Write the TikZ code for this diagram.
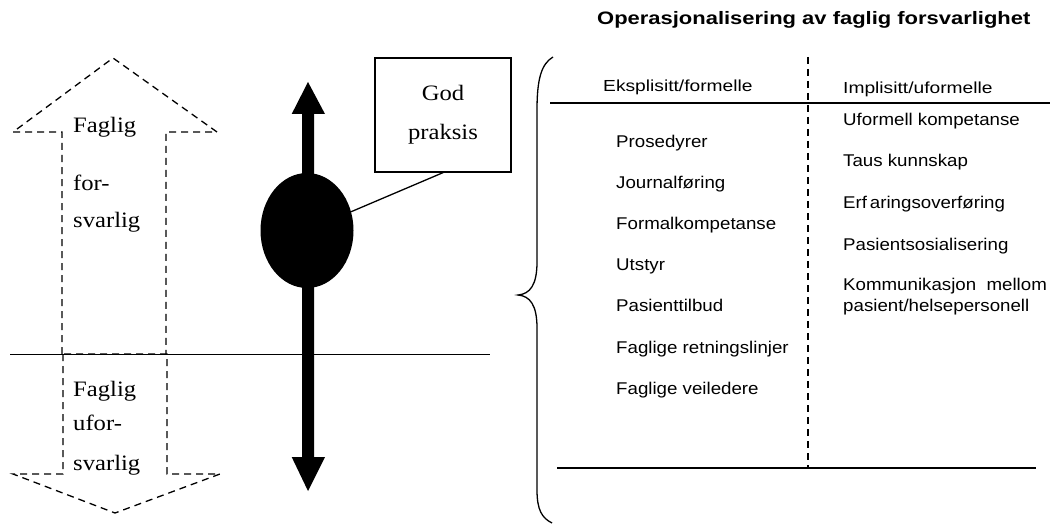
\documentclass[tikz,border=0pt]{standalone}
\usepackage{fontspec}
\usetikzlibrary{shapes.geometric}
\setmainfont{Liberation Serif}
\newfontfamily\serifx[FakeStretch=1.12]{Liberation Serif}
\newfontfamily\sansx[FakeStretch=1.1]{Liberation Sans}
\newfontfamily\headx[FakeStretch=1.2]{Liberation Sans}
\newfontfamily\titlex[FakeStretch=1.22]{Liberation Sans}
\tikzset{
  serif/.style={font=\serifx\fontsize{22}{25}\selectfont, inner sep=0pt, anchor=base west},
  item/.style={font=\sansx\fontsize{17}{20}\selectfont, inner sep=0pt, anchor=base west},
  head/.style={font=\headx\fontsize{16}{18}\selectfont, inner sep=0pt, anchor=base west},
  dasharrow/.style={line width=1.3pt, dash pattern=on 7pt off 5pt},
  rule/.style={line width=1.3pt},
}
\begin{document}
\begin{tikzpicture}[x=1pt,y=-1pt]
\useasboundingbox (0,0) rectangle (1052,532);
% title
\node[font=\titlex\bfseries\fontsize{18}{20}\selectfont, inner sep=0pt, anchor=base west] (title) at (597,25) {Operasjonalisering av faglig forsvarlighet};
% dashed arrows
\draw[dasharrow] (62,354) -- (62,132) -- (13,132) -- (113,58) -- (217,132) -- (166,132) -- (166,354);
\draw[dasharrow] (63,354) -- (63,474) -- (13,474) -- (115,513) -- (220,474) -- (167,474) -- (167,354) -- cycle;
% horizontal line
\coordinate (hl) at (10,354.5);
\coordinate (hr) at (490,354.5);
\draw[rule] (hl) -- (hr);
% texts left
\node[serif] (f1) at (73,133) {Faglig};
\node[serif] (f2) at (73,190) {for-};
\node[serif] (f3) at (73,227) {svarlig};
\node[serif] (u1) at (73,396) {Faglig};
\node[serif] (u2) at (73,430) {ufor-};
\node[serif] (u3) at (73,470) {svarlig};
% thick double arrow
\fill (302,114) -- (291.7,114) -- (308,82) -- (325,114) -- (314,114) -- (314,457) -- (325,457) -- (308,491) -- (291.7,457) -- (302,457) -- cycle;
\node[ellipse, fill=black, minimum width=93pt, minimum height=115pt, inner sep=0pt] (ell) at (307,230.5) {};
% box
\node[draw, line width=1.3pt, minimum width=136pt, minimum height=114pt, align=center, inner sep=0pt,
  font=\serifx\fontsize{22}{39}\selectfont] (god) at (443,115) {God\\praksis};
\draw[line width=1.3pt] (god.south) -- (ell);
% brace
\draw[line width=1.3pt] (553,57) .. controls (541,64) and (537,80) .. (537,110) -- (537,262)
  .. controls (537,285) and (530,294) .. (518,295)
  .. controls (530,296) and (537,305) .. (537,328) -- (537,490)
  .. controls (537,510) and (542,518) .. (552,523);
% table lines
\coordinate (tl) at (550,103);
\coordinate (tr) at (1050,103);
\draw[rule] (tl) -- (tr);
\coordinate (vt) at (808,57);
\coordinate (vb) at (808,468);
\draw[line width=1.3pt, dash pattern=on 7pt off 5pt] (vt) -- (vb);
\coordinate (bl) at (557,468);
\coordinate (br) at (1036,468);
\draw[rule] (bl) -- (br);
% headers
\node[head] (h1) at (603,92) {Eksplisitt/formelle};
\node[head] (h2) at (843,94) {Implisitt/uformelle};
% left items
\node[item] (a1) at (616,147) {Prosedyrer};
\node[item] (a2) at (616,188.2) {Journalføring};
\node[item] (a3) at (616,229.4) {Formalkompetanse};
\node[item] (a4) at (616,270.6) {Utstyr};
\node[item] (a5) at (616,311.8) {Pasienttilbud};
\node[item] (a6) at (616,353) {Faglige retningslinjer};
\node[item] (a7) at (616,394.2) {Faglige veiledere};
% right items
\node[item] (b1) at (843,126) {Uformell kompetanse};
\node[item] (b2) at (843,166.5) {Taus kunnskap};
\node[item] (b3) at (843,208) {Erf\,aringsoverføring};
\node[item] (b4) at (843,250) {Pasientsosialisering};
\node[item] (b5) at (843,290) {Kommunikasjon\ \ mellom};
\node[item] (b6) at (843,311) {pasient/helsepersonell};
\end{tikzpicture}
\end{document}
